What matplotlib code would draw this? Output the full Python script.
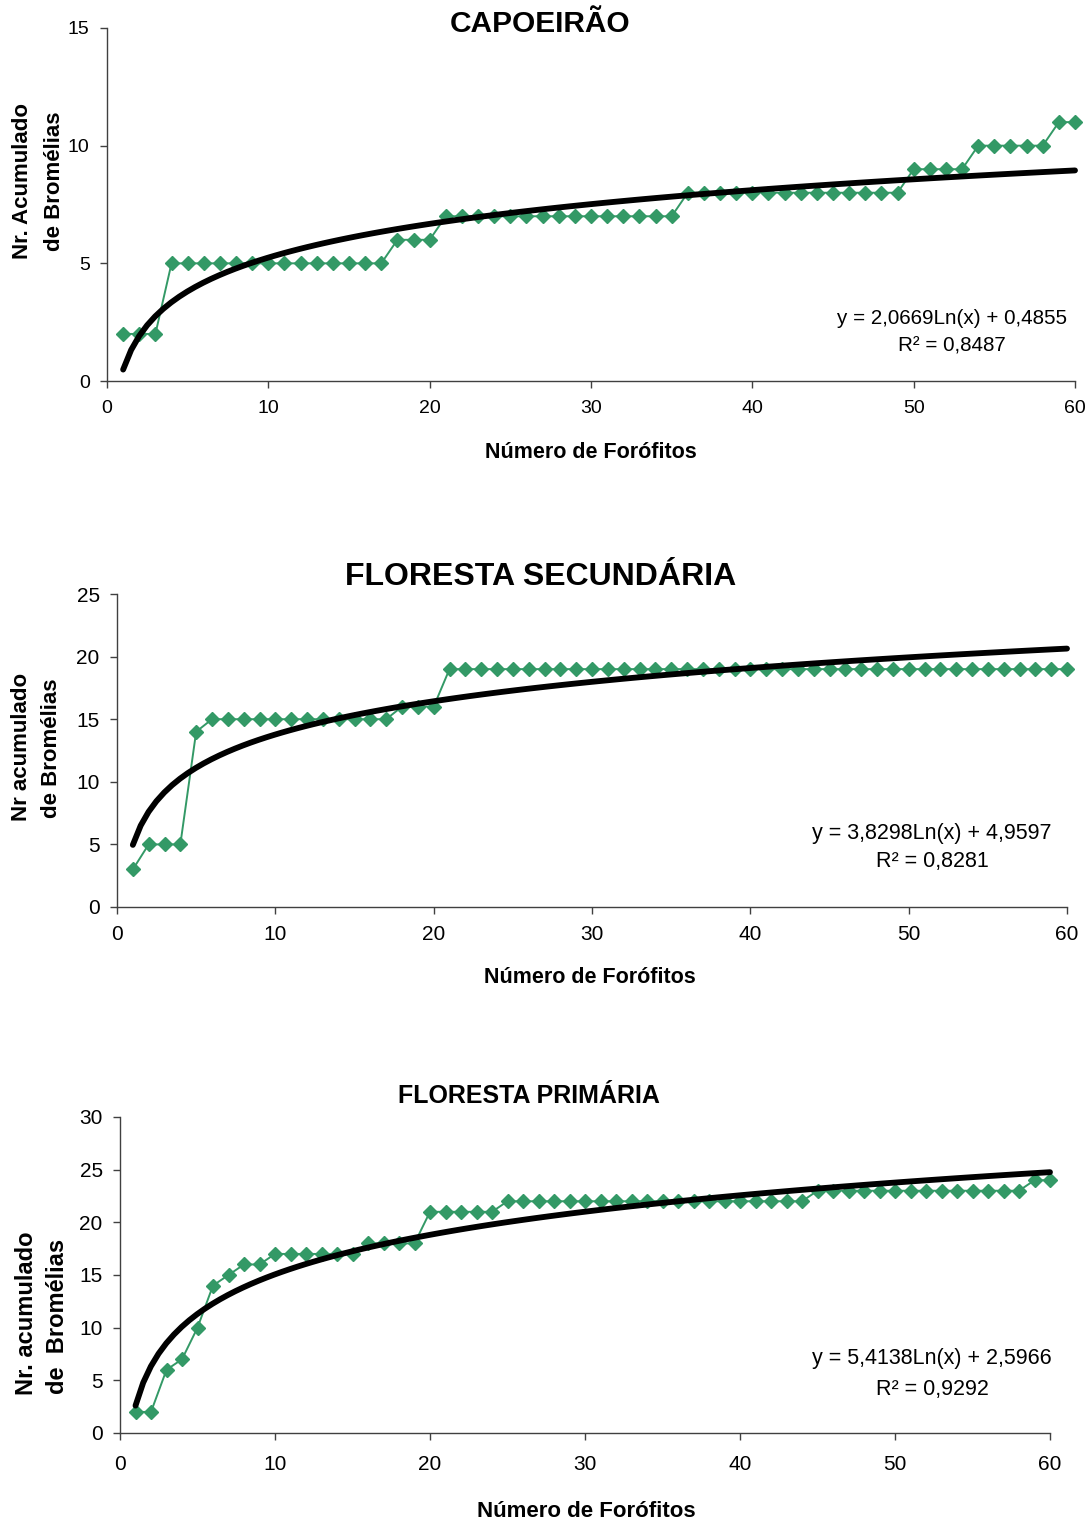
import numpy as np
import matplotlib
matplotlib.use("Agg")
import matplotlib.pyplot as plt

plt.rcParams['font.family'] = ['Liberation Sans', 'DejaVu Sans']

W, H = 1092, 1523

# numero de forofitos (eixo x)
forofitos = list(range(1, 61))

# bromelias acumuladas por area
capoeirao = [2, 2, 2] + [5] * 14 + [6] * 3 + [7] * 15 + [8] * 14 + [9] * 4 + [10] * 5 + [11] * 2
secundaria = [3, 5, 5, 5, 14] + [15] * 12 + [16] * 3 + [19] * 40
primaria = [2, 2, 6, 7, 10, 14, 15, 16, 16, 17, 17, 17, 17, 17, 17, 18, 18, 18, 18,
            21, 21, 21, 21, 21] + [22] * 20 + [23] * 14 + [24] * 2

# coeficientes da linha de tendencia logaritmica (y = a Ln(x) + b)
coef_a = [2.0669, 3.8298, 5.4138]
coef_b = [0.4855, 4.9597, 2.5966]
r2 = [0.8487, 0.8281, 0.9292]

titles = ["CAPOEIRÃO", "FLORESTA SECUNDÁRIA", "FLORESTA PRIMÁRIA"]
ylabels = [("Nr. Acumulado", "de Bromélias"),
           ("Nr acumulado", "de Bromélias"),
           ("Nr. acumulado", "de  Bromélias")]
ymax = [15, 25, 30]

# layout em pixels: (left, right, top, bottom)
boxes = [(107, 1075, 28, 381), (117, 1067, 594, 907), (120, 1050, 1117, 1433)]
title_pos = [(540, 32, 21.5), (541, 585, 23), (529, 1103, 18)]
xlab_pos = [(591, 458, 15.5), (590, 983, 15.5), (586, 1517, 16)]
ylab_pos = [((28, 181), (60, 181), 16), ((27, 747), (57, 748), 16), ((33, 1313), (64, 1316), 17)]
eq_pos = [(952, 324, 351), (932, 839, 867), (932, 1364, 1395)]
eq_fs = [14.9, 15.5, 15.5]
tick_fs = [14, 15, 15]
xpad = [9, 8, 11]

green = '#339966'

def fx(px):
    return px / W

def fy(py):
    return 1 - py / H

fig = plt.figure(figsize=(W / 100, H / 100), dpi=100)

series = [capoeirao, secundaria, primaria]
for i, ys in enumerate(series):
    l, r, t, b = boxes[i]
    ax = fig.add_axes([fx(l), fy(b), (r - l) / W, (b - t) / H])
    x = np.array(forofitos)
    ax.plot(x, ys, color=green, lw=1.4, marker='D', ms=6.8, mec=green, mfc=green,
            clip_on=False, zorder=3)
    xt = np.linspace(1, 60, 120)
    ax.plot(xt, coef_a[i] * np.log(xt) + coef_b[i], color='black', lw=4.2,
            solid_capstyle='round', clip_on=False, zorder=4)

    ax.set_xlim(0, 60)
    ax.set_ylim(0, ymax[i])
    ax.set_xticks(range(0, 61, 10))
    ax.set_yticks(range(0, ymax[i] + 1, 5))
    for s in ['top', 'right']:
        ax.spines[s].set_visible(False)
    for s in ['left', 'bottom']:
        ax.spines[s].set_color('#404040')
        ax.spines[s].set_linewidth(1)
    ax.tick_params(axis='both', direction='out', length=5, width=1, color='#404040',
                   labelsize=tick_fs[i])
    ax.tick_params(axis='x', pad=xpad[i])
    ax.tick_params(axis='y', pad=7.5)

    tx, ty, tfs = title_pos[i]
    fig.text(fx(tx), fy(ty), titles[i], ha='center', va='baseline', fontsize=tfs,
             fontweight='bold')
    lx, ly, lfs = xlab_pos[i]
    fig.text(fx(lx), fy(ly), "Número de Forófitos", ha='center', va='baseline',
             fontsize=lfs, fontweight='bold')
    (x1, y1), (x2, y2), yfs = ylab_pos[i]
    fig.text(fx(x1), fy(y1), ylabels[i][0], rotation=90, rotation_mode='anchor',
             ha='center', va='baseline', fontsize=yfs, fontweight='bold')
    fig.text(fx(x2), fy(y2), ylabels[i][1], rotation=90, rotation_mode='anchor',
             ha='center', va='baseline', fontsize=yfs, fontweight='bold')

    ex, ey1, ey2 = eq_pos[i]
    a_txt = f"{coef_a[i]:.4f}".replace('.', ',')
    b_txt = f"{coef_b[i]:.4f}".replace('.', ',')
    r_txt = f"{r2[i]:.4f}".replace('.', ',')
    fig.text(fx(ex), fy(ey1), f"y = {a_txt}Ln(x) + {b_txt}", ha='center', va='baseline',
             fontsize=eq_fs[i])
    fig.text(fx(ex), fy(ey2), f"R² = {r_txt}", ha='center', va='baseline', fontsize=eq_fs[i])

fig.savefig("out.png", dpi=100, facecolor='white')
